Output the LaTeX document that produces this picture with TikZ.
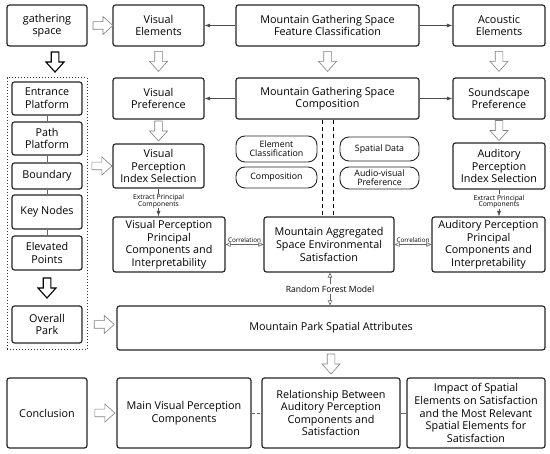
\documentclass[tikz,border=0pt]{standalone}
\usepackage{fontspec}
\setmainfont{Open Sans}
\usetikzlibrary{arrows.meta,calc}
\begin{document}
\begin{tikzpicture}[x=1pt,y=-1pt,
 box/.style={draw=black!85, line width=1.2pt, rounded corners=2.5pt, align=center, inner sep=1pt, font=\fontsize{10.8}{12.6}\selectfont, fill=white},
 pill/.style={draw=black!85, line width=0.9pt, rounded corners=9pt, align=center, inner sep=1pt, font=\fontsize{8.8}{8.6}\selectfont},
 conn/.style={draw=black!70, line width=0.6pt, -{Latex[length=5.5pt,width=4pt]}},
 link/.style={draw=black!60, line width=0.6pt},
 dlink/.style={draw=black, line width=1pt, dash pattern=on 4pt off 3pt},
 corr/.style={draw=black!60, line width=0.6pt, {Triangle[open,length=5pt,width=4.5pt]}-{Triangle[open,length=5pt,width=4.5pt]}},
 opena/.style={draw=black!60, line width=0.6pt, -{Triangle[open,length=5pt,width=4.5pt]}},
 small/.style={font=\fontsize{6.8}{6.6}\selectfont, align=center, inner sep=0.5pt},
 hollow/.style={draw=black!50, line width=0.6pt, fill=white},
 hollowk/.style={draw=black, line width=1.1pt, fill=white},
 barrow/.pic={\path[pic actions] (-10,-3.8) -- (0,-3.8) -- (0,-9) -- (10,0) -- (0,9) -- (0,3.8) -- (-10,3.8) -- cycle;}
]
\fill[white] (0,0) rectangle (550,454);
\useasboundingbox (0,0) rectangle (550,454);

% top row
\node[box, minimum width=80pt, minimum height=41pt] (gs) at (47,25.5) {gathering\\space};
\node[box, minimum width=91pt, minimum height=41pt] (ve) at (158.5,25.5) {Visual\\Elements};
\node[box, minimum width=183pt, minimum height=41pt] (fc) at (327.5,25.5) {Mountain Gathering Space\\Feature Classification};
\node[box, minimum width=92pt, minimum height=41pt] (ae) at (499,25.5) {Acoustic\\Elements};

% second row
\node[box, minimum width=91pt, minimum height=41pt] (vp) at (158.5,98.5) {Visual\\Preference};
\node[box, minimum width=183pt, minimum height=41pt] (gc) at (327.5,98.5) {Mountain Gathering Space\\Composition};
\node[box, minimum width=92pt, minimum height=41pt] (sp) at (499,98.5) {Soundscape\\Preference};

% left group
\node[draw=black!80, line width=1pt, dotted, minimum width=80pt, minimum height=272pt] (grp) at (47,214) {};
\node[box, minimum width=70pt, minimum height=33pt] (ep) at (47,98.5) {Entrance\\Platform};
\node[box, minimum width=70pt, minimum height=33pt] (pp) at (47,138.5) {Path\\Platform};
\node[box, minimum width=70pt, minimum height=26pt] (bd) at (47,176) {Boundary};
\node[box, minimum width=70pt, minimum height=34pt] (kn) at (47,212) {Key Nodes};
\node[box, minimum width=70pt, minimum height=34pt] (el) at (47,253) {Elevated\\Points};
\node[box, minimum width=70pt, minimum height=37pt] (op) at (47,324.5) {Overall\\Park};
\draw[link] (ep) -- (pp);
\draw[link] (pp) -- (bd);
\draw[link] (bd) -- (kn);
\draw[link] (kn) -- (el);

% perception rows
\node[box, minimum width=91pt, minimum height=44pt] (vpis) at (158.5,166) {Visual\\Perception\\Index Selection};
\node[box, minimum width=92pt, minimum height=46pt] (apis) at (499,166) {Auditory\\Perception\\Index Selection};
\node[box, minimum width=112pt, minimum height=55pt] (vppc) at (169,244.5) {Visual Perception\\Principal\\Components and\\Interpretability};
\node[box, minimum width=130pt, minimum height=55pt] (mas) at (329,244.5) {Mountain Aggregated\\Space Environmental\\Satisfaction};
\node[box, minimum width=113pt, minimum height=55pt] (appc) at (488.5,244.5) {Auditory Perception\\Principal\\Components and\\Interpretability};

% pills
\node[pill, minimum width=81pt, minimum height=26pt] (ecl) at (276.5,149) {Element\\Classification};
\node[pill, minimum width=81pt, minimum height=21pt] (cmp) at (276.5,177.5) {Composition};
\node[pill, minimum width=79pt, minimum height=24pt] (sd) at (379.5,149) {Spatial Data};
\node[pill, minimum width=79pt, minimum height=22pt] (av) at (379.5,178) {Audio-visual\\Preference};

% attributes and bottom row
\node[box, minimum width=428pt, minimum height=44pt] (mpsa) at (331,328) {Mountain Park Spatial Attributes};
\node[box, minimum width=80pt, minimum height=70pt] (conc) at (47,413) {Conclusion};
\node[box, minimum width=134pt, minimum height=70pt] (mvpc) at (184,413) {Main Visual Perception\\Components};
\node[box, minimum width=138pt, minimum height=70pt] (rel) at (331,413) {Relationship Between\\Auditory Perception\\Components and\\Satisfaction};
\node[box, minimum width=138pt, minimum height=70pt] (imp) at (476,413) {Impact of Spatial\\Elements on Satisfaction\\and the Most Relevant\\Spatial Elements for\\Satisfaction};

% connectors
\draw[conn] (fc) -- (ve);
\draw[conn] (fc) -- (ae);
\draw[conn] (gc) -- (vp);
\draw[conn] (gc) -- (sp);
\draw[dlink] ([xshift=-5.5pt]gc.south) -- ([xshift=-5.5pt]gc.south |- mas.north);
\draw[dlink] ([xshift=5.5pt]gc.south) -- ([xshift=5.5pt]gc.south |- mas.north);
\draw[conn] (vpis.south) -- (vpis.south |- vppc.north) node[pos=0.45, small, fill=white] {Extract Principal\\Components};
\draw[conn] (apis.south) -- (apis.south |- appc.north) node[pos=0.45, small, fill=white] {Extract Principal\\Components};
\draw[corr] (vppc) -- (mas) node[midway, above=1pt, small, font=\fontsize{6.3}{6.5}\selectfont] {Correlation};
\draw[corr] (mas) -- (appc) node[midway, above=1pt, small, font=\fontsize{6.3}{6.5}\selectfont] {Correlation};
\node[font=\fontsize{8.6}{9}\selectfont, inner sep=1pt] (rf) at (330,289) {Random Forest Model};
\draw[opena] (rf) -- (rf |- mas.south);
\draw[opena] (rf) -- (rf |- mpsa.north);
\draw[link, dash pattern=on 3pt off 2pt] (mvpc) -- (rel);
\draw[link] (rel) -- (imp);

% hollow block arrows
\pic[hollow] at ($(gs.east)!0.62!(ve.west)$) {barrow};
\pic[hollow] at ($(grp.east |- vpis.west)!0.58!(vpis.west)$) {barrow};
\pic[hollow] at ($(op.east -| grp.east)!0.58!(op.east -| mpsa.west)$) {barrow};
\pic[hollow] at ($(conc.east)!0.6!(mvpc.west)$) {barrow};
\pic[hollowk, rotate=-90] at ($(gs.south)!0.5!(grp.north)+(8,0)$) {barrow};
\pic[hollowk, rotate=-90] at ($(el.south)!0.5!(op.north)$) {barrow};
\pic[hollow, rotate=-90] at ($(ve.south)!0.48!(vp.north)$) {barrow};
\pic[hollow, rotate=-90] at ($(fc.south)!0.48!(gc.north)$) {barrow};
\pic[hollow, rotate=-90] at ($(ae.south)!0.48!(sp.north)$) {barrow};
\pic[hollow, rotate=-90] at ($(vp.south)!0.48!(vpis.north)$) {barrow};
\pic[hollow, rotate=-90] at ($(sp.south)!0.48!(apis.north)$) {barrow};
\pic[hollow, rotate=-90] at ($(mpsa.south)!0.5!(rel.north)$) {barrow};
\end{tikzpicture}
\end{document}
